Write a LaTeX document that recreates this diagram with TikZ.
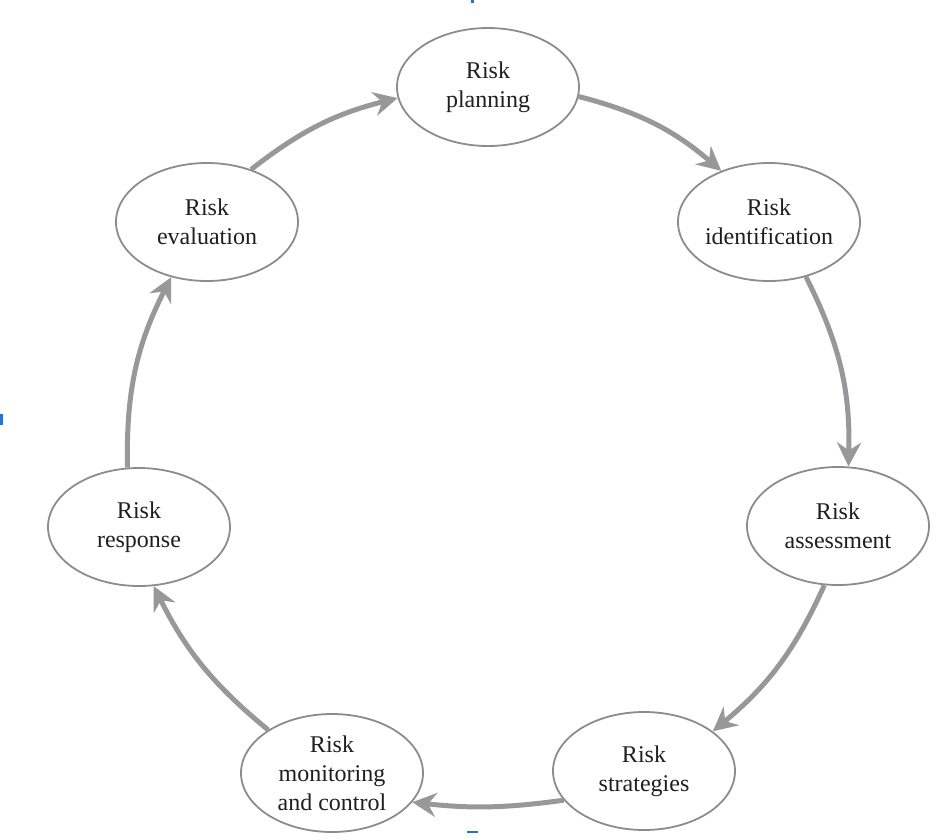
\documentclass[tikz,border=0pt]{standalone}
\usepackage{fontspec}
\setmainfont{Liberation Serif}
\usetikzlibrary{shapes.geometric,arrows.meta}
\definecolor{ringgray}{RGB}{140,140,142}
\definecolor{arrowgray}{RGB}{152,152,155}
\definecolor{txt}{RGB}{30,30,35}
\definecolor{markblue}{RGB}{30,115,230}
\tikzset{
  stage/.style={ellipse, draw=ringgray, line width=1.8pt, minimum width=182pt,
    minimum height=118pt, inner sep=0pt, align=center, text=txt,
    font=\fontsize{24}{29}\selectfont},
  flow/.style={draw=arrowgray, line width=5pt,
    -{Stealth[length=24pt,width=24pt,inset=8pt]}},
  cropmark/.style={fill=markblue, draw=none}
}
\begin{document}
\begin{tikzpicture}[x=1pt,y=-1pt]
\useasboundingbox (0,0) rectangle (943,839);
\node[stage] (plan) at (488,87) {Risk\\planning};
\node[stage] (ident) at (769,222) {Risk\\identification};
\node[stage] (assess) at (838,526) {Risk\\assessment};
\node[stage] (strat) at (644,771) {Risk\\strategies};
\node[stage] (monit) at (332,773) {Risk\\monitoring\\and control};
\node[stage] (resp) at (139,527) {Risk\\response};
\node[stage] (eval) at (207,222) {Risk\\evaluation};
\draw[flow] (plan.-6) to[bend left=13] (ident.133);
\draw[flow] (ident.-56) to[bend left=14] (assess.80);
\draw[flow] (assess.-103) to[bend left=13] (strat.30);
\draw[flow] (strat.200) to[bend left=7] (monit.-20);
\draw[flow] (monit.146) to[bend left=12] (resp.-76);
\draw[flow] (resp.101) to[bend left=14] (eval.-123);
\draw[flow] (eval.50) to[bend left=12] (plan.187);
\fill[cropmark] (471,0) rectangle (473.5,3);
\fill[cropmark] (0,414) rectangle (2.5,425);
\fill[cropmark] (467,831) rectangle (478,833);
\end{tikzpicture}
\end{document}
